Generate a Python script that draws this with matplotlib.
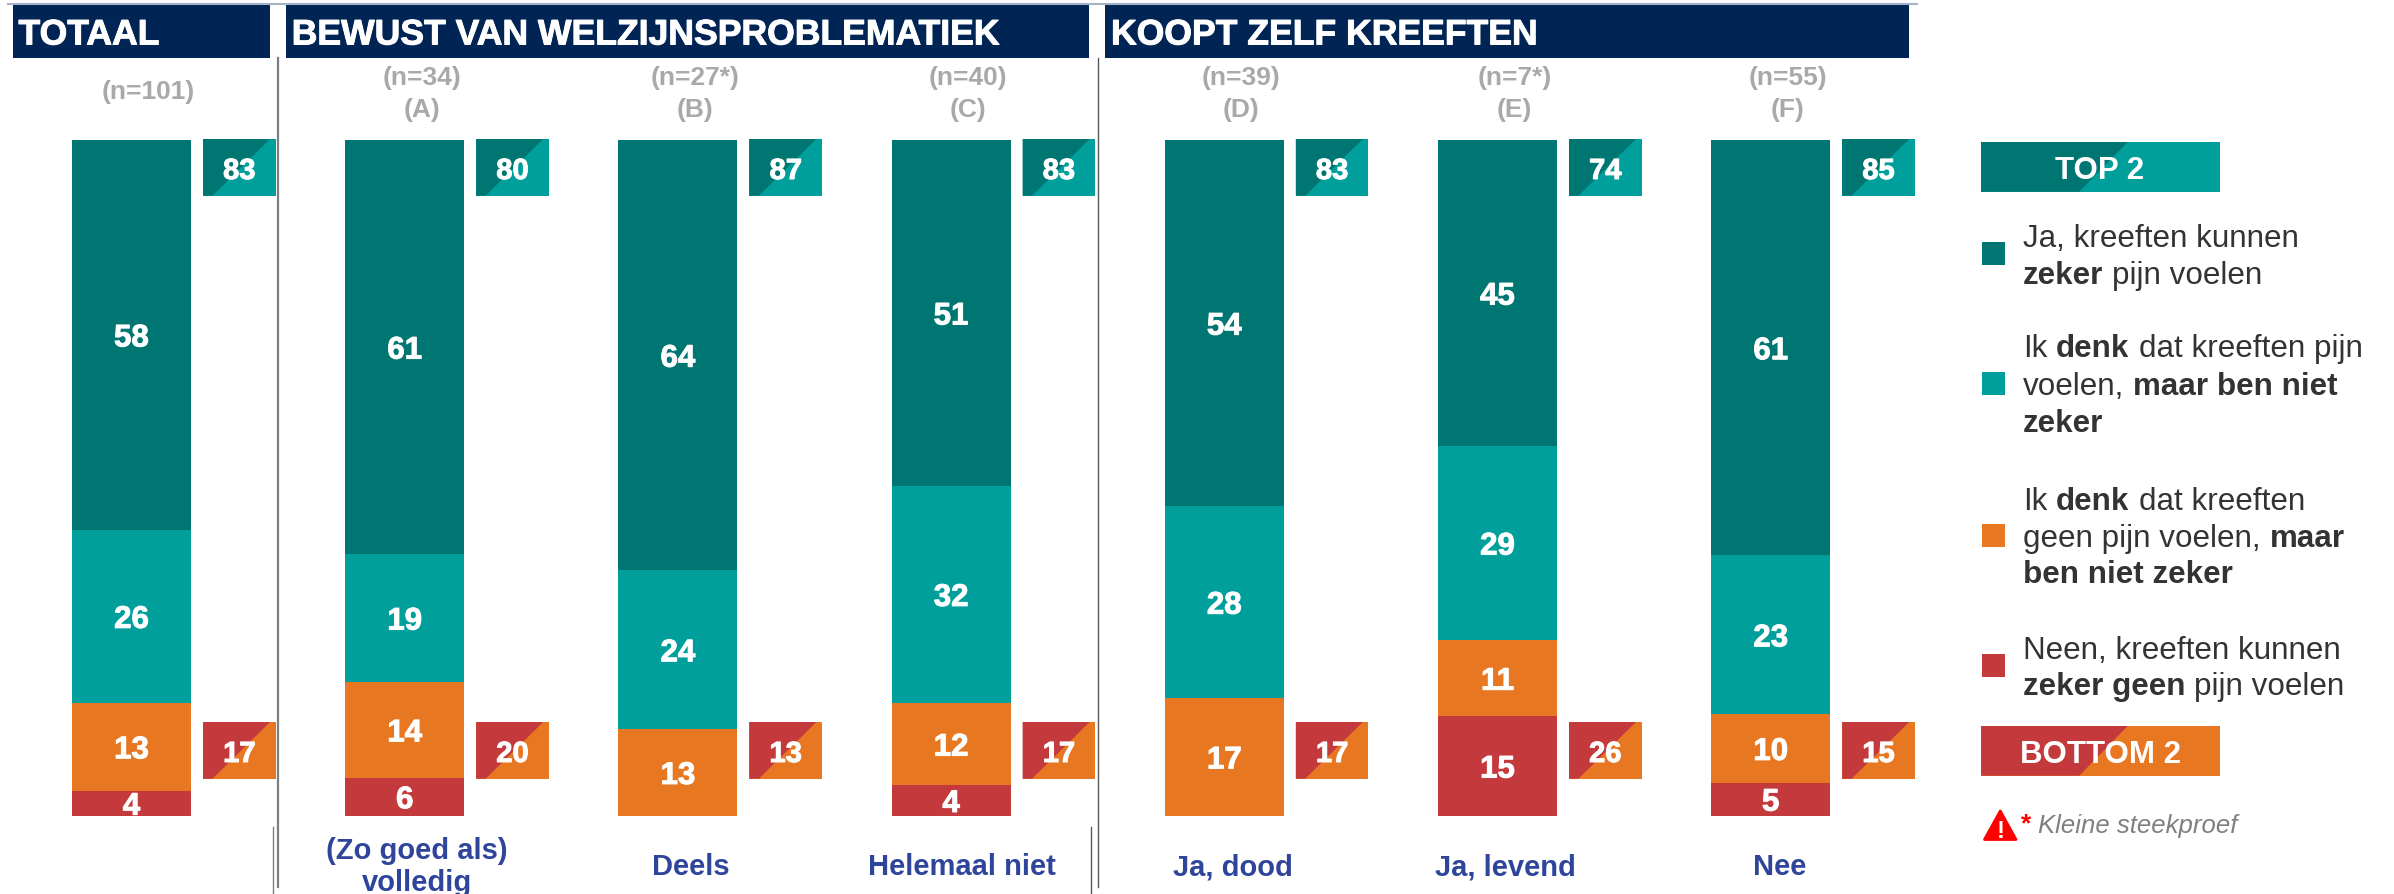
import matplotlib
matplotlib.use("Agg")
import numpy as np
import matplotlib.pyplot as plt
import matplotlib.patheffects as pe
from matplotlib.patches import Polygon, Rectangle

plt.rcParams['font.family'] = ['Liberation Sans', 'DejaVu Sans']

# data
groups = ['Totaal', 'A', 'B', 'C', 'D', 'E', 'F']
zeker_ja = [57.7, 61.3, 63.7, 51.2, 54.2, 45.3, 61.49]
denk_ja = [25.6, 18.9, 23.5, 32.1, 28.4, 28.7, 23.49]
denk_nee = [13.0, 14.2, 12.8, 12.2, 17.4, 11.3, 10.12]
zeker_nee = [3.7, 5.6, 0, 4.5, 0, 14.7, 4.9]
top2 = [83, 80, 87, 83, 83, 74, 85]
bottom2 = [17, 20, 13, 17, 17, 26, 15]
n_labels = ['(n=101)', '(n=34)', '(n=27*)', '(n=40)', '(n=39)', '(n=7*)', '(n=55)']
letters = ['', '(A)', '(B)', '(C)', '(D)', '(E)', '(F)']
cat_labels = ['', '(Zo goed als)\nvolledig', 'Deels', 'Helemaal niet', 'Ja, dood', 'Ja, levend', 'Nee']
headers = ['TOTAAL', 'BEWUST VAN WELZIJNSPROBLEMATIEK', 'KOOPT ZELF KREEFTEN']

DARK = '#007673'
TEAL = '#009F9C'
ORANGE = '#E87722'
RED = '#C4393C'
NAVY = '#002454'
BLUE = '#2F459B'
GREY = '#A9A9A9'
TXT = '#333333'
thick = [pe.withStroke(linewidth=0.7, foreground='white')]

W, H = 2394, 894
fig = plt.figure(figsize=(W / 100, H / 100), dpi=100)

# bars, stacked from the bottom
X0, STEP = 131.5, 273.2
TOP, BOT = 140, 815.7
ax = fig.add_axes([0, (H - BOT) / H, 1, (BOT - TOP) / H])
ax.set_xlim(-X0 / STEP, (W - X0) / STEP)
ax.set_ylim(0, 100)
ax.axis('off')

x = np.arange(len(groups))
bottom = np.zeros(len(groups))
for vals, col in [(zeker_nee, RED), (denk_nee, ORANGE), (denk_ja, TEAL), (zeker_ja, DARK)]:
    vals = np.array(vals)
    ax.bar(x, vals, 0.435, bottom=bottom, color=col, linewidth=0)
    for xi, b, v in zip(x, bottom, vals):
        if v > 0:
            ax.text(xi, b + v / 2, f'{v:.0f}', color='white', fontsize=22.5, fontweight='bold',
                    ha='center', va='center_baseline', path_effects=thick)
    bottom = bottom + vals

# everything else in pixel coordinates
px = fig.add_axes([0, 0, 1, 1], zorder=3)
px.set_xlim(0, W)
px.set_ylim(H, 0)
px.axis('off')
px.patch.set_alpha(0)


def split_box(x0, x1, y0, y1, col1, col2, dx_bot, dx_top):
    px.add_patch(Rectangle((x0, y0), x1 - x0, y1 - y0, color=col2, lw=0))
    px.add_patch(Polygon([(x0, y0), (x1 - dx_top, y0), (x0 + dx_bot, y1), (x0, y1)], color=col1, lw=0))


# headers
px.plot([8, 1917], [3.5, 3.5], color='#A5B2C6', lw=1.5)
for (x0, x1), label in zip([(12.5, 270), (285.7, 1089), (1105, 1909)], headers):
    px.add_patch(Rectangle((x0, 3), x1 - x0, 55, color=NAVY, lw=0))
    px.text(x0 + 6, 31, label, color='white', fontsize=25.6, fontweight='bold', ha='left',
            va='center_baseline', path_effects=thick)

# separators
px.plot([277.7, 277.7], [58, 887], color='#7F7F7F', lw=1.6)
px.plot([273, 273], [827, 894], color='#7F7F7F', lw=1)
px.plot([1097.5, 1097.5], [58, 887], color='#595959', lw=1)
px.plot([1090.5, 1090.5], [827, 894], color='#595959', lw=1)

# n, letters, category labels, top/bottom boxes
cat_shift = [0, 12, 12.5, 10.5, 8.5, 8, 8.5]
for i in range(len(groups)):
    cx = X0 + STEP * i
    if i == 0:
        px.text(cx + 17, 92, n_labels[i], color=GREY, fontsize=19, fontweight='bold', ha='center', va='center')
    else:
        px.text(cx + 17, 78, n_labels[i], color=GREY, fontsize=19, fontweight='bold', ha='center', va='center')
        px.text(cx + 17, 110, letters[i], color=GREY, fontsize=19, fontweight='bold', ha='center', va='center')
    if cat_labels[i]:
        px.text(cx + cat_shift[i], 867, cat_labels[i], color=BLUE, fontsize=21, fontweight='bold',
                ha='center', va='center', linespacing=1.22)
    bx0 = cx + 71.5
    bx1 = bx0 + 72.5
    split_box(bx0, bx1, 139, 195.7, DARK, TEAL, 9.5, 5.5)
    split_box(bx0, bx1, 722, 778.7, RED, ORANGE, 9.5, 5.5)
    px.text((bx0 + bx1) / 2, 168, str(top2[i]), color='white', fontsize=21, fontweight='bold',
            ha='center', va='center_baseline', path_effects=thick)
    px.text((bx0 + bx1) / 2, 751, str(bottom2[i]), color='white', fontsize=21, fontweight='bold',
            ha='center', va='center_baseline', path_effects=thick)

# legend
split_box(1981, 2220, 142, 191.7, DARK, TEAL, 98.3, 92.3)
px.text(2100, 167.5, 'TOP 2', color='white', fontsize=22.5, fontweight='bold', ha='center', va='center_baseline')
split_box(1981, 2220, 726, 775.7, RED, ORANGE, 98.3, 92.3)
px.text(2100, 751.5, 'BOTTOM 2', color='white', fontsize=22.5, fontweight='bold', ha='center', va='center_baseline')

legend_items = [
    (DARK, 242, [(246, [('Ja, kreeften kunnen', False)]),
                 (282.7, [('zeker', True), ('pijn voelen', False)])]),
    (TEAL, 372, [(355.7, [('Ik', False), ('denk', True), ('dat kreeften pijn', False)]),
                 (394, [('voelen,', False), ('maar ben niet', True)]),
                 (430.7, [('zeker', True)])]),
    (ORANGE, 524, [(509.3, [('Ik', False), ('denk', True), ('dat kreeften', False)]),
                   (545.7, [('geen pijn voelen,', False), ('maar', True)]),
                   (582.3, [('ben niet zeker', True)])]),
    (RED, 654, [(657.7, [('Neen, kreeften kunnen', False)]),
                (694.3, [('zeker geen', True), ('pijn voelen', False)])]),
]
fig.canvas.draw()
rend = fig.canvas.get_renderer()
LEG_SIZE = 22.6
space = LEG_SIZE * 100 / 72 * 0.29
for col, sq_y, lines in legend_items:
    px.add_patch(Rectangle((1981.7, sq_y), 23.3, 23, color=col, lw=0))
    for base, runs in lines:
        tx = 2022.7
        for s, is_bold in runs:
            t = px.text(tx, base + 1, s, color=TXT, fontsize=LEG_SIZE, ha='left', va='baseline',
                        fontweight='bold' if is_bold else 'normal')
            tx += t.get_window_extent(rend).width + space

# small sample note
px.add_patch(Polygon([(2000.3, 811), (2016, 839.5), (1984.5, 839.5)], closed=True, facecolor='#FF0000',
                     edgecolor='#FF0000', lw=2, joinstyle='round'))
px.text(2000.3, 838, '!', color='white', fontsize=17, fontweight='bold', ha='center', va='baseline')
px.text(2026, 831, '*', color='#FF0000', fontsize=19, fontweight='bold', ha='center', va='baseline')
px.text(2038, 833, 'Kleine steekproef', color='#808080', fontsize=18.5, style='italic', ha='left', va='baseline')

fig.savefig('out.png', dpi=100)
